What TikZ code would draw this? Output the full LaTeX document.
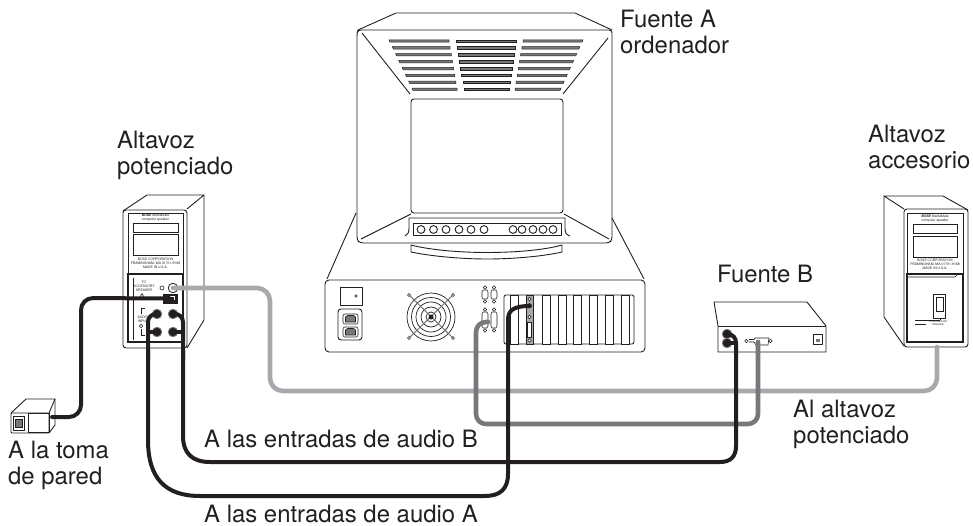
\documentclass[tikz,border=0pt]{standalone}
\usepackage{fontspec}
\setmainfont{TeX Gyre Heros}
\definecolor{ink}{HTML}{231F20}
\definecolor{lightcable}{HTML}{A7A9AC}
\definecolor{darkcable}{HTML}{77787B}
\tikzset{
  outline/.style={draw=ink,line width=0.9pt,line join=round},
  thinline/.style={draw=ink,line width=0.6pt},
  heavy/.style={draw=ink,line width=1.5pt},
  label/.style={inner sep=0pt,align=left,anchor=north west,text=ink,font=\fontsize{23.9}{26.3}\selectfont},
  labelone/.style={inner sep=0pt,anchor=base west,text=ink,font=\fontsize{23.9}{26.3}\selectfont},
  micro/.style={inner sep=0pt,align=center,text=ink,font=\fontsize{3.4}{4}\selectfont},
  jack/.style={circle,fill=ink,draw=darkcable,line width=0.8pt,minimum size=9.5pt,inner sep=0pt},
  anchorpt/.style={circle,minimum size=1pt,inner sep=0pt},
  blackcable/.style={draw=ink,line width=4pt,line cap=round},
  greycable/.style={draw=lightcable,line width=4.6pt,line cap=round},
  midcable/.style={draw=darkcable,line width=4.6pt,line cap=round},
}
\newcommand{\dsubconn}[3]{%
  \draw[thinline,fill=white] (#1-2,#2+5) -- (#1+2,#2+5) -- (#1+3,#2+7) -- (#1+3,#3-7) -- (#1+2,#3-5) -- (#1-2,#3-5) -- (#1-3,#3-7) -- (#1-3,#2+7) -- cycle;
  \draw[thinline,fill=white] (#1,#2+2.5) circle (1.8);
  \draw[thinline,fill=white] (#1,#3-2.5) circle (1.8);
}
\begin{document}
\begin{tikzpicture}[x=1pt,y=-1pt]
\useasboundingbox (0,0) rectangle (973,526);
% ---------- monitor ----------
\draw[outline,rounded corners=3pt] (357,33) -- (358,30) -- (612,30) -- (612,240) -- (609,243) -- (360,243) -- (357,240) -- cycle;
\draw[outline] (358,30) -- (396,13) -- (575,13) -- (612,30);
\draw[outline,rounded corners=3pt] (411,99) rectangle (563,213);
\draw[outline] (362,33) -- (410,94);
\draw[outline] (608,38) -- (563,94);
\draw[outline] (411,214) -- (361,239);
\draw[outline] (564,214) -- (609,239);
\foreach \r [evaluate=\r as \ya using 41+(\r-1)*6.9] in {1,...,8}{
  \pgfmathsetmacro{\t}{(\r-1)/7}
  \pgfmathsetmacro{\la}{389+\t*23}\pgfmathsetmacro{\lb}{449+\t*8}
  \pgfmathsetmacro{\ma}{456+\t*8}\pgfmathsetmacro{\mb}{516-\t*7}
  \pgfmathsetmacro{\ra}{523-\t*8}\pgfmathsetmacro{\rb}{583-\t*22}
  \draw[draw=ink,line width=0.5pt,fill=darkcable] (\la,\ya-1.2) -- (\lb,\ya-1.2) -- (\lb,\ya+1.2) -- (\la+1,\ya+1.2) -- cycle;
  \draw[draw=ink,line width=0.5pt,fill=darkcable] (\ma,\ya-1.2) -- (\mb,\ya-1.2) -- (\mb,\ya+1.2) -- (\ma,\ya+1.2) -- cycle;
  \draw[draw=ink,line width=0.5pt,fill=darkcable] (\ra,\ya-1.2) -- (\rb,\ya-1.2) -- (\rb-1,\ya+1.2) -- (\ra,\ya+1.2) -- cycle;
}
% control panel
\draw[outline] (405,236) .. controls (408,235) and (409,232) .. (409,228) -- (409,218) -- (565,218) -- (565,228) .. controls (565,232) and (566,235) .. (570,236);
\draw[outline] (413,223) rectangle (561,235);
\foreach \x in {421,433.5,446,459,471,484,513,522,533,543,553}{\draw[outline] (\x,229.5) circle (3.9);}
% stand
\draw[outline] (411,245) -- (411,252) .. controls (430,256) and (460,259) .. (487,259) .. controls (515,259) and (545,256) .. (562,252) -- (562,245);
\draw[outline] (411,245) .. controls (430,250) and (460,252.5) .. (487,252.5) .. controls (515,252.5) and (545,250) .. (562,245);
% ---------- computer base ----------
\draw[outline] (327,279) -- (356,213);
\draw[outline] (612,218) -- (644,279);
\draw[outline,rounded corners=4pt] (325,280) rectangle (645,352);
\draw[outline] (340,287) rectangle (362,305);
\draw[thinline] (356,296) circle (1.3);
\draw[outline,rounded corners=3pt] (338,309) rectangle (362,340);
\foreach \y in {314,327}{
  \draw[thinline,rounded corners=2pt] (343,\y) rectangle (358,\y+10);
  \draw[thinline,fill=darkcable] (345.5,\y+8) -- (345.5,\y+3) -- (347.5,\y+1.5) -- (353.5,\y+1.5) -- (355.5,\y+3) -- (355.5,\y+8) -- cycle;
}
% fan
\foreach \r in {24,19.5,15,10,5}{\draw[draw=ink,line width=0.7pt] (431,317) circle (\r);}
\draw[draw=darkcable,line width=1pt] (409,295) -- (453,338);
\draw[draw=darkcable,line width=1pt] (453,295) -- (409,338);
\foreach \x/\y in {409/295,453/295,409/338,453/338}{\draw[thinline,fill=white] (\x,\y) circle (1.5);}
\fill[ink] (431,317) circle (2.5);
% d-sub ports
\dsubconn{485}{285}{304}
\dsubconn{494}{285}{304}
\dsubconn{485}{307}{333}
\dsubconn{494}{307}{333}
% expansion slots
\draw[outline,rounded corners=2pt] (504,295) rectangle (634,344);
\foreach \x in {510,542,558,573,589,605,621}{\draw[thinline,fill=white] (\x,295) rectangle (\x+8,344);}
\draw[thinline,fill=lightcable] (526,295) rectangle (533,344);
\foreach \y in {305,317}{\draw[thinline,fill=white] (529.5,\y) circle (1.7);}
\draw[thinline,fill=white] (527.5,322) rectangle (531.5,337);
\draw[thinline,fill=white] (529.5,340.5) circle (1.7);
\draw[thinline,fill=white] (529.5,299) circle (1.7);
% ---------- powered speaker ----------
\draw[outline,rounded corners=3pt] (123,210) rectangle (187,348);
\draw[outline] (123,211) -- (147,195) -- (204,195) -- (187,209);
\draw[outline] (204,195) -- (204,320) -- (187,348);
\draw[thinline] (128,213) rectangle (183,274);
\draw[thinline] (133,223) rectangle (178,232);
\draw[thinline] (133,234) rectangle (178,255);
\node[micro] (lbrand) at (155.5,218) {\textbf{\textit{BOSE}} MediaMate\\computer speaker};
\node[micro] (lcorp) at (155.5,263) {BOSE CORPORATION\\FRAMINGHAM, MA 01701-9168\\MADE IN U.S.A.};
\draw[heavy] (128,274) rectangle (183,342);
\draw[thinline] (133,278) -- (133,340);
\node[micro] (lacc) at (144,286) {TO\\ACCESSORY\\SPEAKER};
\node[micro] (linp) at (143,319) {AUDIO\\INPUT};
\draw[thinline] (145,299) -- (142,293.5) -- (139,299) -- cycle;
\draw[thinline] (162,288) circle (2);
\draw[thinline] (141,326) circle (1.8);
\draw[thinline] (145,308) -- (141,308) -- (141,314);
\draw[thinline] (141,329) -- (141,335) -- (145,335);
% ---------- accessory speaker ----------
\draw[outline,rounded corners=3pt] (904,209) rectangle (968,347);
\draw[outline] (904,209) -- (884,196) -- (943,196) -- (968,210);
\draw[outline] (884,196) -- (884,317) -- (904,346);
\draw[thinline] (907,213) rectangle (963,274);
\draw[thinline] (913,224) rectangle (957,233);
\draw[thinline] (913,236) rectangle (957,257);
\node[micro] (rbrand) at (935,219) {\textbf{\textit{BOSE}} MediaMate\\computer speaker};
\node[micro] (rcorp) at (935,264) {BOSE CORPORATION\\FRAMINGHAM, MA 01701-9168\\MADE IN U.S.A.};
\draw[heavy] (907,274) -- (907,342) -- (963,342) -- (963,274) -- cycle;
\draw[thinline] (958,274) -- (955,277) -- (907,277);
\draw[thinline,fill=white] (933,294) rectangle (945,318);
\draw[thinline] (936,297) rectangle (943,311);
\draw[heavy,line width=1pt] (915,320) -- (940,320);
\draw[thinline] (940,320) -- (940,318);
\draw[heavy,line width=0.8pt] (915,324) -- (926,324);
\node[micro,font=\fontsize{2.4}{3}\selectfont] (rsw) at (938,323.5) {TO ACCESSORY\\SPEAKER};
% ---------- source B ----------
\draw[outline] (714,302) -- (807,302) -- (826,326) -- (826,352) -- (718,352) -- (718,326) -- cycle;
\draw[outline] (718,326) -- (826,326);
\draw[outline] (813,334) rectangle (822,344);
\fill[darkcable] (815.5,339) rectangle (819.5,342);
\draw[thinline,fill=white] (749,339.5) -- (754,339.5) -- (755,338) -- (769,338) -- (768,345) -- (756,345) -- (754,342) -- (749,342);
\draw[thinline,fill=white] (746.5,341) circle (1.7);
\draw[thinline,fill=white] (770.5,341) circle (1.7);
% ---------- plug ----------
\draw[outline,fill=white,rounded corners=1pt] (11,413) rectangle (49,433);
\draw[outline] (11,413) -- (26,399) -- (55,399) -- (49,413);
\draw[outline] (55,399) -- (55,425) -- (49,433);
\draw[thinline] (13,416) rectangle (24,430);
\draw[thinline,fill=darkcable] (15,419) rectangle (22,427);
\draw[thinline] (28,413) rectangle (49,432);
% ---------- named ends ----------
\node[jack] (ja) at (157,314) {};
\node[jack] (jc) at (173,314) {};
\node[jack] (jb) at (157,332) {};
\node[jack] (jd) at (173,332) {};
\node[jack,fill=white,draw=ink] (jout) at (173,288) {};
\node[draw=ink,fill=ink,minimum width=14pt,minimum height=9pt,inner sep=0pt] (pwr) at (170,298.5) {};
\draw[white,line width=0.5pt] (170,296) -- (174,296) -- (174,300);
\node[jack] (sa) at (727,334) {};
\node[jack] (sb) at (727,343) {};
\node[anchorpt] (plugend) at (52,417) {};
\node[anchorpt] (acc) at (937,347) {};
\node[anchorpt] (vga) at (488,322) {};
\node[anchorpt] (db) at (758,342) {};
\node[anchorpt] (card) at (530,306) {};
% ---------- cables ----------
\draw[greycable,rounded corners=13pt] (jout.center) -- (270,288) -- (270,391) -- (937,391) -- (acc.center);
\draw[midcable,rounded corners=10pt] (vga.center) -- (476,322) -- (476,424) -- (758,424) -- (db.center);
\draw[blackcable,rounded corners=12pt] (pwr.center) -- (81,298) -- (81,417) -- (plugend.center);
\draw[blackcable,rounded corners=10pt] (jb.center) -- (148,332);
\draw[blackcable,rounded corners=10pt] (jd.center) -- (183,332);
\draw[blackcable,rounded corners=8pt] (ja.center) -- (148,314) -- (148,360);
\draw[blackcable] (148,350) -- (148,440) .. controls (148,478) and (165,496) .. (200,496) -- (485,496) .. controls (500,496) and (508,489) .. (508,474) -- (508,320) .. controls (508,310) and (514,306) .. (card.center);
\draw[blackcable,rounded corners=8pt] (jc.center) -- (183,314) -- (183,360);
\draw[blackcable] (183,350) -- (183,436) .. controls (183,453) and (192,462) .. (210,462) -- (720,462) .. controls (731,462) and (736,456) .. (736,446) -- (736,343) .. controls (736,338) and (733,334) .. (sa.center);
\draw[blackcable] (sb.center) -- (736,343);
% ---------- labels ----------
\node[label] (fa) at (620,10) {Fuente A\\ordenador};
\node[label] (al) at (117,131) {Altavoz\\potenciado};
\node[label] (ar) at (868,125) {Altavoz\\accesorio};
\node[labelone] (fb) at (717,283) {Fuente B};
\node[label] (aa) at (793,400) {Al altavoz\\potenciado};
\node[label] (tm) at (8,441) {A la toma\\de pared};
\node[labelone] (eb) at (204,447) {A las entradas de audio B};
\node[labelone] (ea) at (204,522) {A las entradas de audio A};
\end{tikzpicture}
\end{document}
